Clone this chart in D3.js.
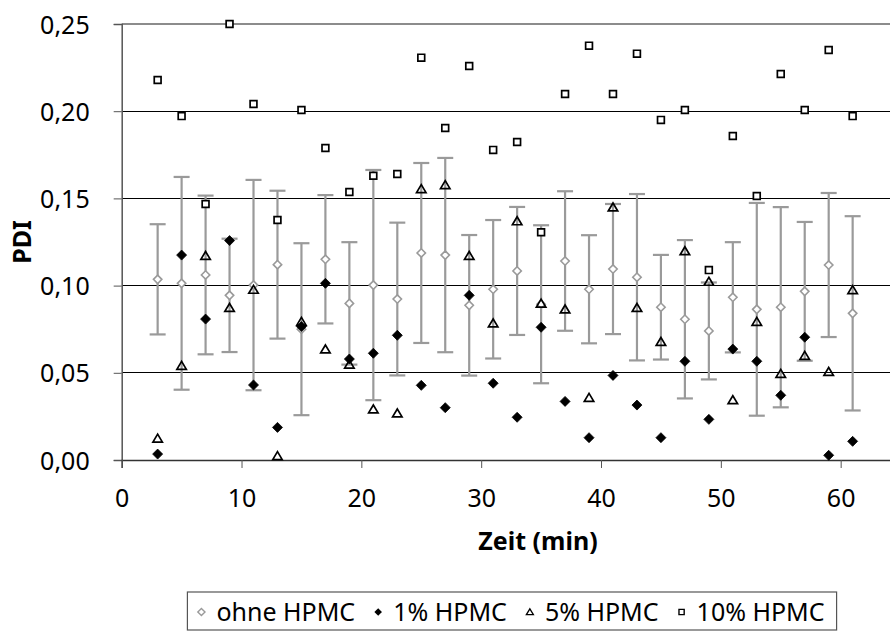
<!DOCTYPE html>
<html><head><meta charset="utf-8">
<script src="https://cdn.jsdelivr.net/npm/d3@7/dist/d3.min.js"></script>
<style>
html,body{margin:0;padding:0;background:#fff;}
svg text{font-family:"Noto Sans","Liberation Sans",sans-serif;fill:#000;}
</style></head>
<body><svg id="c" width="890" height="632"></svg>
<script>
const times = [3,5,7,9,11,13,15,17,19,21,23,25,27,29,31,33,35,37,39,41,43,45,47,49,51,53,55,57,59,61];
const ohne = [0.1036,0.1013,0.1061,0.0944,0.1003,0.1120,0.0750,0.1151,0.0898,0.1003,0.0923,0.1187,0.1175,0.0887,0.0979,0.1084,0.0893,0.1141,0.0979,0.1095,0.1048,0.0876,0.0807,0.0740,0.0933,0.0864,0.0876,0.0967,0.1118,0.0841];
const ohneErr = [0.0316,0.0610,0.0455,0.0325,0.0603,0.0424,0.0493,0.0368,0.0351,0.0660,0.0438,0.0516,0.0557,0.0403,0.0397,0.0367,0.0453,0.0400,0.0310,0.0373,0.0477,0.0300,0.0454,0.0278,0.0316,0.0610,0.0574,0.0398,0.0413,0.0557];
const pct1 = [0.0034,0.1175,0.0808,0.1258,0.0430,0.0187,0.0765,0.1013,0.0579,0.0612,0.0715,0.0428,0.0300,0.0944,0.0440,0.0245,0.0761,0.0336,0.0128,0.0485,0.0315,0.0128,0.0566,0.0233,0.0636,0.0566,0.0371,0.0704,0.0027,0.0107];
const pct5 = [0.0124,0.0541,0.1171,0.0873,0.0977,0.0023,0.0793,0.0635,0.0548,0.0291,0.0268,0.1554,0.1577,0.1171,0.0784,0.1370,0.0898,0.0864,0.0357,0.1449,0.0873,0.0678,0.1198,0.1023,0.0344,0.0793,0.0495,0.0598,0.0506,0.0975];
const pct10 = [0.2179,0.1972,0.1468,0.2500,0.2041,0.1376,0.2007,0.1789,0.1537,0.1630,0.1640,0.2307,0.1904,0.2259,0.1778,0.1823,0.1306,0.2099,0.2376,0.2099,0.2330,0.1950,0.2007,0.1089,0.1858,0.1514,0.2213,0.2007,0.2351,0.1972];
const xTicks = [0,10,20,30,40,50,60];
const yTicks = [0,0.05,0.10,0.15,0.20,0.25];
const legendLabels = ["ohne HPMC","1% HPMC","5% HPMC","10% HPMC"];
const xTitle = "Zeit (min)", yTitle = "PDI";

const svg = d3.select("#c");
const x = d3.scaleLinear().domain([0,70]).range([121.7, 960.5]);
const y = d3.scaleLinear().domain([0,0.25]).range([460, 24]);
const FS = 25;
const fmt = v => d3.format(".2f")(v).replace(".", ",");

// gridlines
svg.append("g").selectAll("line").data(yTicks.filter(v => v > 0 && v < 0.25)).join("line")
  .attr("x1", x(0)).attr("x2", 890).attr("y1", d => y(d)).attr("y2", d => y(d))
  .attr("stroke", "#000").attr("stroke-width", 1).attr("shape-rendering","crispEdges");
// plot top border
svg.append("line").attr("x1", x(0)).attr("x2", 890).attr("y1", y(0.25)).attr("y2", y(0.25))
  .attr("stroke", "#8c8c8c").attr("stroke-width", 2);

// axes
const yAxis = d3.axisLeft(y).tickValues(yTicks).tickSize(8).tickFormat(fmt).tickPadding(24);
const gy = svg.append("g").attr("transform", `translate(${x(0)},0)`).call(yAxis);
gy.select(".domain").attr("stroke", "#555").attr("stroke-width", 1.5);
gy.selectAll(".tick line").attr("stroke", "#555");
gy.selectAll(".tick text").attr("font-size", FS).attr("dy", "0.36em");

const xAxis = d3.axisBottom(x).tickValues(xTicks).tickSize(8).tickFormat(d3.format("d")).tickPadding(21);
const gx = svg.append("g").attr("transform", `translate(0,${y(0)})`).call(xAxis);
gx.select(".domain").attr("stroke", "#333").attr("stroke-width", 1.5);
gx.selectAll(".tick line").attr("stroke", "#555");
gx.selectAll(".tick text").attr("font-size", FS);

// axis titles
svg.append("text").attr("transform", "translate(31,242) rotate(-90)").attr("text-anchor","middle")
  .attr("font-size", FS).attr("font-weight","bold").text(yTitle);
svg.append("text").attr("x", 538).attr("y", 550).attr("text-anchor","middle")
  .attr("font-size", FS).attr("font-weight","bold").text(xTitle);

const grey = "#9a9a9a";
const idx = d3.range(times.length);
// error bars
const eb = svg.append("g").attr("stroke", grey).attr("stroke-width", 2.2).attr("fill","none");
idx.forEach(i => {
  const cx = x(times[i]), lo = y(ohne[i]-ohneErr[i]), hi = y(ohne[i]+ohneErr[i]);
  eb.append("line").attr("x1",cx).attr("x2",cx).attr("y1",lo).attr("y2",hi);
  eb.append("line").attr("x1",cx-8).attr("x2",cx+8).attr("y1",lo).attr("y2",lo);
  eb.append("line").attr("x1",cx-8).attr("x2",cx+8).attr("y1",hi).attr("y2",hi);
});

const diamond = r => `M0,${-r}L${r},0L0,${r}L${-r},0Z`;
const tri = r => `M0,${-r}L${r*1.1},${r*0.85}L${-r*1.1},${r*0.85}Z`;
const sq = r => `M${-r},${-r}H${r}V${r}H${-r}Z`;

function series(vals, path, fill, stroke, sw) {
  svg.append("g").selectAll("path").data(idx).join("path")
    .attr("transform", i => `translate(${x(times[i])},${y(vals[i])})`)
    .attr("d", path).attr("fill", fill).attr("stroke", stroke).attr("stroke-width", sw);
}
series(ohne, diamond(4.2), "#fff", grey, 1.6);
series(pct1, diamond(5), "#000", "#000", 0.8);
series(pct5, tri(4.3), "none", "#000", 1.7);
series(pct10, sq(3.4), "#fff", "#000", 1.7);

// legend
const lg = svg.append("g");
const symFns = [
  g => g.append("path").attr("d", diamond(3.6)).attr("fill","#fff").attr("stroke",grey).attr("stroke-width",1.4),
  g => g.append("path").attr("d", diamond(3.8)).attr("fill","#000"),
  g => g.append("path").attr("d", tri(3.2)).attr("fill","none").attr("stroke","#000").attr("stroke-width",1.3),
  g => g.append("path").attr("d", sq(2.6)).attr("fill","#fff").attr("stroke","#000").attr("stroke-width",1.4)
];
const legTextY = 621;
let cur = 0;
legendLabels.forEach((lab, i) => {
  const g = lg.append("g");
  const sg = g.append("g").attr("transform", `translate(${cur},${legTextY-9})`);
  symFns[i](sg);
  const t = g.append("text").attr("x", cur + 15).attr("y", legTextY).attr("font-size", FS).text(lab);
  const w = t.node().getComputedTextLength();
  cur = cur + 15 + w + 23;
});
const total = cur - 23;
const startX = 513 - total/2;
lg.attr("transform", `translate(${startX},0)`);
lg.insert("rect", ":first-child").attr("x", -14).attr("y", 592).attr("width", total + 26).attr("height", 38)
  .attr("fill","#fff").attr("stroke","#555").attr("stroke-width",1.2);
</script></body></html>
